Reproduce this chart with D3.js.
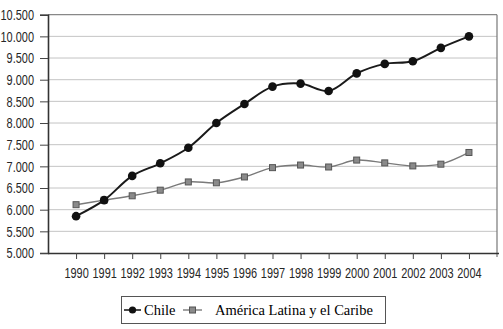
<!DOCTYPE html>
<html>
<head>
<meta charset="utf-8">
<script src="https://cdn.jsdelivr.net/npm/d3@7.9.0/dist/d3.min.js"></script>
<style>
  body { margin: 0; background: #fff; }
  svg { display: block; }
  .tick text { font-family: "Liberation Sans", Arial, sans-serif; font-size: 15px; fill: #262626; }
  .legend text { font-family: "Liberation Serif", "Times New Roman", serif; font-size: 14.5px; fill: #000; }
</style>
</head>
<body>
<div id="chart"></div>
<script>
const years = [1990, 1991, 1992, 1993, 1994, 1995, 1996, 1997, 1998, 1999, 2000, 2001, 2002, 2003, 2004];
const chile = [5850, 6220, 6780, 7070, 7430, 8000, 8440, 8840, 8910, 8740, 9145, 9365, 9425, 9735, 10000];
const alc = [6115, 6220, 6320, 6450, 6640, 6620, 6755, 6970, 7030, 6985, 7145, 7080, 7010, 7050, 7320];
const yTicks = [5000, 5500, 6000, 6500, 7000, 7500, 8000, 8500, 9000, 9500, 10000, 10500];
const seriesNames = ["Chile", "América Latina y el Caribe"];

const width = 503, height = 329;
const plotLeft = 48, plotRight = 497, plotTop = 14.7, plotBottom = 253;
const squeeze = 0.73; // narrow tick labels

const svg = d3.select("#chart").append("svg")
    .attr("width", width)
    .attr("height", height);

const x = d3.scaleLinear().domain([1989, 2005]).range([plotLeft, plotRight]);
const y = d3.scaleLinear().domain([5000, 10500]).range([plotBottom, plotTop]);

const es = d3.formatLocale({ decimal: ",", thousands: ".", grouping: [3], currency: ["$", ""] });
const fmt = es.format(",d");

// gridlines
svg.append("g")
    .selectAll("line")
    .data(yTicks.slice(1))
    .enter()
    .append("line")
    .attr("x1", plotLeft).attr("x2", plotRight)
    .attr("y1", d => y(d)).attr("y2", d => y(d))
    .attr("stroke", d => d === 10500 ? "#888" : "#c4c4c4")
    .attr("stroke-width", d => d === 10500 ? 1.2 : 1);

// right border
svg.append("line")
    .attr("x1", plotRight).attr("x2", plotRight)
    .attr("y1", plotTop).attr("y2", plotBottom + 4)
    .attr("stroke", "#777")
    .attr("stroke-width", 1.2);

// y axis
const yAxis = svg.append("g")
    .attr("transform", `translate(${plotLeft},0)`)
    .call(d3.axisLeft(y).tickValues(yTicks).tickFormat(fmt).tickSize(8).tickPadding(6));
yAxis.select(".domain").attr("stroke", "#333").attr("stroke-width", 1.6);
yAxis.selectAll(".tick line").attr("stroke", "#444");
yAxis.selectAll(".tick text")
    .attr("x", -14 / squeeze)
    .attr("transform", `scale(${squeeze},1)`);

// x axis
const xAxis = svg.append("g")
    .attr("transform", `translate(0,${plotBottom})`)
    .call(d3.axisBottom(x).tickValues(years).tickFormat(d3.format("d")).tickSize(6).tickPadding(8).tickSizeOuter(0));
xAxis.select(".domain").attr("stroke", "#333").attr("stroke-width", 1.4)
    .attr("d", `M${plotLeft},0.5H${plotRight + 2}`);
xAxis.selectAll(".tick line").attr("stroke", "#444");
xAxis.selectAll(".tick text")
    .attr("transform", `scale(${squeeze},1)`);

const line = d3.line()
    .x((d, i) => x(years[i]))
    .y(d => y(d))
    .curve(d3.curveCatmullRom);

// América Latina y el Caribe
svg.append("path")
    .datum(alc)
    .attr("fill", "none")
    .attr("stroke", "#7a7a7a")
    .attr("stroke-width", 1.4)
    .attr("d", line);

svg.append("g")
    .selectAll("rect")
    .data(alc)
    .enter()
    .append("rect")
    .attr("x", (d, i) => x(years[i]) - 3)
    .attr("y", d => y(d) - 3)
    .attr("width", 6)
    .attr("height", 6)
    .attr("fill", "#8a8a8a")
    .attr("stroke", "#555")
    .attr("stroke-width", 1);

// Chile
svg.append("path")
    .datum(chile)
    .attr("fill", "none")
    .attr("stroke", "#1a1a1a")
    .attr("stroke-width", 2)
    .attr("d", line);

svg.append("g")
    .selectAll("circle")
    .data(chile)
    .enter()
    .append("circle")
    .attr("cx", (d, i) => x(years[i]))
    .attr("cy", d => y(d))
    .attr("r", 4.3)
    .attr("fill", "#111");

// legend
const legend = svg.append("g").attr("class", "legend");
legend.append("rect")
    .attr("x", 121.5).attr("y", 296.5)
    .attr("width", 264).attr("height", 27)
    .attr("fill", "#fff")
    .attr("stroke", "#555")
    .attr("stroke-width", 1);

legend.append("line")
    .attr("x1", 124).attr("x2", 141).attr("y1", 310).attr("y2", 310)
    .attr("stroke", "#111").attr("stroke-width", 1.5);
legend.append("circle")
    .attr("cx", 132.5).attr("cy", 310).attr("r", 3.6).attr("fill", "#111");
legend.append("text")
    .attr("x", 144).attr("y", 315)
    .text(seriesNames[0]);

legend.append("line")
    .attr("x1", 183).attr("x2", 202).attr("y1", 310).attr("y2", 310)
    .attr("stroke", "#666").attr("stroke-width", 1.2);
legend.append("rect")
    .attr("x", 189.5).attr("y", 307).attr("width", 6).attr("height", 6)
    .attr("fill", "#8a8a8a").attr("stroke", "#555");
legend.append("text")
    .attr("x", 215).attr("y", 315)
    .text(seriesNames[1]);
</script>
</body>
</html>
